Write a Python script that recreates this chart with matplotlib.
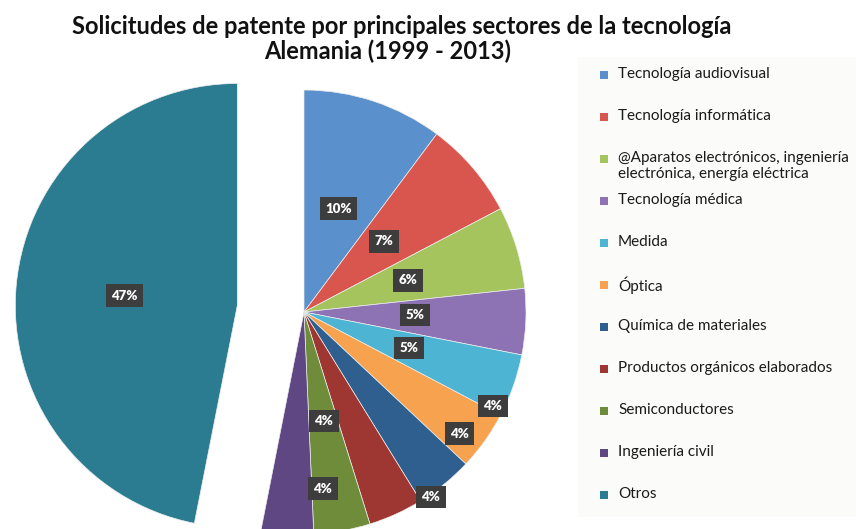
import matplotlib
matplotlib.use('Agg')
import matplotlib.pyplot as plt
from matplotlib.patches import Rectangle
import numpy as np

sectores = ['Tecnología audiovisual', 'Tecnología informática',
            '@Aparatos electrónicos, ingeniería\nelectrónica, energía eléctrica',
            'Tecnología médica', 'Medida', 'Óptica', 'Química de materiales',
            'Productos orgánicos elaborados', 'Semiconductores',
            'Ingeniería civil', 'Otros']
porcentajes = [10.2, 7.1, 6.0, 4.8, 4.6, 4.3, 4.2, 4.0, 4.1, 3.8, 46.9]
colores = ['#5A90CC', '#D9564F', '#A5C45E', '#8E73B4', '#4DB5D3', '#F6A24F',
           '#2F5F8E', '#9E3632', '#6E8C3A', '#5E4782', '#2B7C91']

# where the value boxes sit: fraction of radius and angle shift (deg) per slice
lbl_r = [0.49, 0.48, 0.49, 0.50, 0.50, 0.95, 0.89, 1.01, 0.50, 0.80, 0.51]
lbl_shift = [0, 1, 0, 1, 0.6, 9, 12.8, 10, 0.4, 10.4, 0.6]

plt.rcParams['font.family'] = ['Lato', 'DejaVu Sans']
fig = plt.figure(figsize=(8.56, 5.29), dpi=100)
ax = fig.add_axes([0, 0, 1, 1])

cx, cy, R = 304, 217, 222
explode = [0] * 10 + [67]
wedges, _ = ax.pie(porcentajes, colors=colores, startangle=90, counterclock=False,
                   radius=R, center=(cx, cy), explode=explode,
                   wedgeprops=dict(linewidth=0.5, edgecolor='#eeeeee'))
ax.set_xlim(0, 856)
ax.set_ylim(0, 529)
ax.set_aspect('equal')
ax.axis('off')

for w, p, rf, sh in zip(wedges, porcentajes, lbl_r, lbl_shift):
    mid = np.radians((w.theta1 + w.theta2) / 2 + sh)
    x0, y0 = w.center
    ax.text(x0 + rf * R * np.cos(mid), y0 + rf * R * np.sin(mid), '%d%%' % round(p),
            ha='center', va='center', color='white', fontsize=9.5, fontweight='heavy',
            bbox=dict(boxstyle='square,pad=0.4', fc='#3d3d3d', ec='none'))

## Title
ax.text(402, 503, 'Solicitudes de patente por principales sectores de la tecnología',
        ha='center', va='center', fontsize=17, fontweight='bold', color='#111111')
ax.text(388, 478, 'Alemania (1999 - 2013)', ha='center', va='center',
        fontsize=17, fontweight='bold', color='#111111')

## Legend drawn by hand
ax.add_patch(Rectangle((578, 12), 278, 460, fc='#fbfbfa', ec='none', zorder=0))
y = 454
for name, c in zip(sectores, colores):
    ax.add_patch(Rectangle((600, y - 4), 8, 8, fc=c, ec='none'))
    ax.text(618, y + 8, name, ha='left', va='top', fontsize=11,
            color='#1a1a1a', linespacing=1.15)
    y -= 42

fig.savefig('out.png', dpi=100, facecolor='white')
